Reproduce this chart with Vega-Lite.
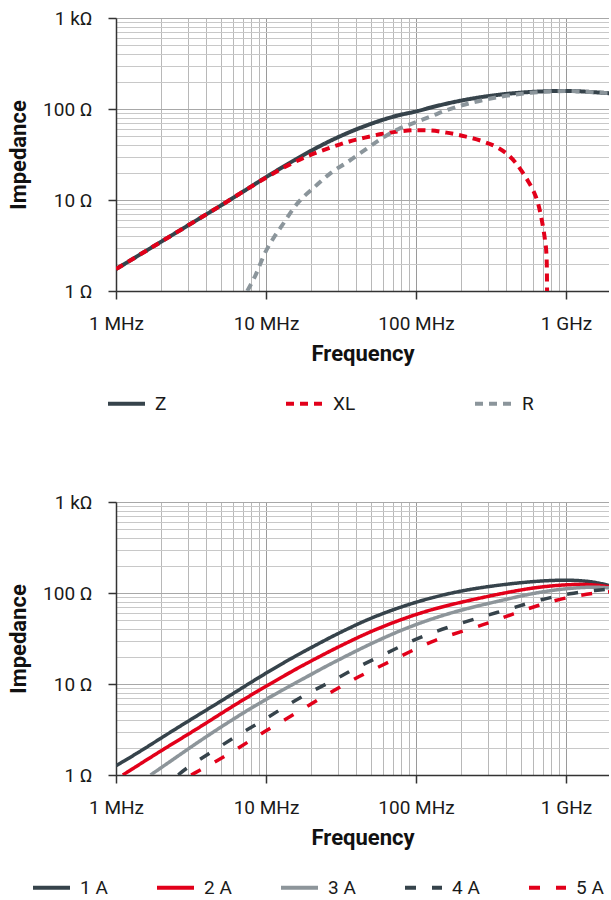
{
  "$schema": "https://vega.github.io/schema/vega-lite/v6.json",
  "padding": {"left": 7, "top": 9, "right": 0, "bottom": 0},
  "background": "white",
  "spacing": 211,
  "bounds": "flush",
  "resolve": {"scale": {"color": "independent", "strokeDash": "independent"}, "legend": {"color": "independent", "strokeDash": "independent"}},
  "config": {
    "view": {"stroke": null},
    "font": "Roboto",
    "axis": {
      "labelFont": "Roboto", "labelFontSize": 19, "labelColor": "#1a1a1a",
      "titleFont": "Roboto", "titleFontSize": 22, "titleFontWeight": "bold", "titleColor": "#111111",
      "domainColor": "#333333", "domainWidth": 1.5,
      "tickColor": "#333333", "tickWidth": 1.5, "tickSize": 8,
      "labelOverlap": false, "labelBound": false, "labelFlush": false,
      "grid": true
    },
    "legend": {
      "labelFont": "Roboto", "labelFontSize": 19, "labelColor": "#1a1a1a"
    }
  },
  "datasets": {
    "top": [
      {"s": "Z", "f": 1000000, "z": 1.74}, {"s": "Z", "f": 2000000, "z": 3.48}, {"s": "Z", "f": 3520000, "z": 6.12},
      {"s": "Z", "f": 5000000, "z": 8.7}, {"s": "Z", "f": 7000000, "z": 12.3}, {"s": "Z", "f": 10000000, "z": 17.8},
      {"s": "Z", "f": 16300000, "z": 28.8}, {"s": "Z", "f": 27100000, "z": 45}, {"s": "Z", "f": 45700000, "z": 65},
      {"s": "Z", "f": 75900000, "z": 85}, {"s": "Z", "f": 103000000, "z": 95}, {"s": "Z", "f": 126000000, "z": 104},
      {"s": "Z", "f": 212000000, "z": 126}, {"s": "Z", "f": 352000000, "z": 143}, {"s": "Z", "f": 585000000, "z": 154},
      {"s": "Z", "f": 1000000000, "z": 158}, {"s": "Z", "f": 1630000000, "z": 152}, {"s": "Z", "f": 1940000000, "z": 149},

      {"s": "XL", "f": 1000000, "z": 1.74}, {"s": "XL", "f": 2000000, "z": 3.48}, {"s": "XL", "f": 3520000, "z": 6.12},
      {"s": "XL", "f": 5000000, "z": 8.7}, {"s": "XL", "f": 7000000, "z": 12.3}, {"s": "XL", "f": 10000000, "z": 17.6},
      {"s": "XL", "f": 14000000, "z": 24}, {"s": "XL", "f": 20000000, "z": 31.5}, {"s": "XL", "f": 27100000, "z": 37.8},
      {"s": "XL", "f": 35200000, "z": 43.5}, {"s": "XL", "f": 45700000, "z": 48.5}, {"s": "XL", "f": 58500000, "z": 53},
      {"s": "XL", "f": 75900000, "z": 56.5}, {"s": "XL", "f": 103000000, "z": 58.5}, {"s": "XL", "f": 126000000, "z": 58},
      {"s": "XL", "f": 160000000, "z": 55}, {"s": "XL", "f": 212000000, "z": 50}, {"s": "XL", "f": 280000000, "z": 44},
      {"s": "XL", "f": 352000000, "z": 37.5}, {"s": "XL", "f": 410000000, "z": 31.5}, {"s": "XL", "f": 457000000, "z": 26.2},
      {"s": "XL", "f": 510000000, "z": 20.5}, {"s": "XL", "f": 558000000, "z": 16.2}, {"s": "XL", "f": 610000000, "z": 12.3},
      {"s": "XL", "f": 650000000, "z": 9.3}, {"s": "XL", "f": 680000000, "z": 6.8}, {"s": "XL", "f": 703000000, "z": 5.06},
      {"s": "XL", "f": 725000000, "z": 3.6}, {"s": "XL", "f": 740000000, "z": 2.62}, {"s": "XL", "f": 746000000, "z": 1.7},
      {"s": "XL", "f": 748000000, "z": 1.0},

      {"s": "R", "f": 7500000, "z": 1.0}, {"s": "R", "f": 8450000, "z": 1.45}, {"s": "R", "f": 9850000, "z": 2.62},
      {"s": "R", "f": 11200000, "z": 3.8}, {"s": "R", "f": 12600000, "z": 5.06}, {"s": "R", "f": 16300000, "z": 9.3},
      {"s": "R", "f": 21200000, "z": 14}, {"s": "R", "f": 27100000, "z": 19.9}, {"s": "R", "f": 35200000, "z": 26.3},
      {"s": "R", "f": 45700000, "z": 35.5}, {"s": "R", "f": 58500000, "z": 47}, {"s": "R", "f": 75900000, "z": 60},
      {"s": "R", "f": 103000000, "z": 73}, {"s": "R", "f": 126000000, "z": 83}, {"s": "R", "f": 160000000, "z": 97},
      {"s": "R", "f": 212000000, "z": 112}, {"s": "R", "f": 352000000, "z": 135}, {"s": "R", "f": 585000000, "z": 151},
      {"s": "R", "f": 1000000000, "z": 157.5}, {"s": "R", "f": 1630000000, "z": 152}, {"s": "R", "f": 1940000000, "z": 149}
    ],
    "bottom": [
      {"s": "1 A", "f": 1000000, "z": 1.26}, {"s": "1 A", "f": 1500000, "z": 1.88}, {"s": "1 A", "f": 2110000, "z": 2.7},
      {"s": "1 A", "f": 3520000, "z": 4.55}, {"s": "1 A", "f": 5870000, "z": 7.6}, {"s": "1 A", "f": 9800000, "z": 13},
      {"s": "1 A", "f": 16300000, "z": 21}, {"s": "1 A", "f": 22200000, "z": 27.5}, {"s": "1 A", "f": 27300000, "z": 33},
      {"s": "1 A", "f": 45500000, "z": 50}, {"s": "1 A", "f": 75900000, "z": 69}, {"s": "1 A", "f": 126000000, "z": 89},
      {"s": "1 A", "f": 211000000, "z": 108}, {"s": "1 A", "f": 352000000, "z": 122}, {"s": "1 A", "f": 587000000, "z": 134},
      {"s": "1 A", "f": 980000000, "z": 140}, {"s": "1 A", "f": 1470000000, "z": 135}, {"s": "1 A", "f": 1940000000, "z": 121},

      {"s": "2 A", "f": 1110000, "z": 1.0}, {"s": "2 A", "f": 2110000, "z": 1.96}, {"s": "2 A", "f": 3520000, "z": 3.25},
      {"s": "2 A", "f": 5870000, "z": 5.6}, {"s": "2 A", "f": 9800000, "z": 9.3}, {"s": "2 A", "f": 16300000, "z": 15},
      {"s": "2 A", "f": 22200000, "z": 19.6}, {"s": "2 A", "f": 27300000, "z": 23.4}, {"s": "2 A", "f": 45500000, "z": 35.5},
      {"s": "2 A", "f": 75900000, "z": 50}, {"s": "2 A", "f": 126000000, "z": 66}, {"s": "2 A", "f": 211000000, "z": 81},
      {"s": "2 A", "f": 352000000, "z": 97}, {"s": "2 A", "f": 587000000, "z": 114}, {"s": "2 A", "f": 980000000, "z": 124},
      {"s": "2 A", "f": 1470000000, "z": 125}, {"s": "2 A", "f": 1940000000, "z": 117},

      {"s": "3 A", "f": 1700000, "z": 1.0}, {"s": "3 A", "f": 2500000, "z": 1.55}, {"s": "3 A", "f": 3520000, "z": 2.3},
      {"s": "3 A", "f": 5870000, "z": 4.0}, {"s": "3 A", "f": 9800000, "z": 6.7}, {"s": "3 A", "f": 16300000, "z": 10.6},
      {"s": "3 A", "f": 22200000, "z": 14}, {"s": "3 A", "f": 27300000, "z": 16.8}, {"s": "3 A", "f": 45500000, "z": 25.8},
      {"s": "3 A", "f": 75900000, "z": 38}, {"s": "3 A", "f": 126000000, "z": 52}, {"s": "3 A", "f": 211000000, "z": 67},
      {"s": "3 A", "f": 352000000, "z": 81}, {"s": "3 A", "f": 587000000, "z": 99}, {"s": "3 A", "f": 980000000, "z": 112},
      {"s": "3 A", "f": 1470000000, "z": 117}, {"s": "3 A", "f": 1940000000, "z": 114},

      {"s": "4 A", "f": 2600000, "z": 1.0}, {"s": "4 A", "f": 2930000, "z": 1.19}, {"s": "4 A", "f": 4540000, "z": 1.88},
      {"s": "4 A", "f": 6500000, "z": 2.75}, {"s": "4 A", "f": 9300000, "z": 3.85}, {"s": "4 A", "f": 13300000, "z": 5.63},
      {"s": "4 A", "f": 19500000, "z": 8.1}, {"s": "4 A", "f": 28700000, "z": 11.1}, {"s": "4 A", "f": 41000000, "z": 15.5},
      {"s": "4 A", "f": 60300000, "z": 20.8}, {"s": "4 A", "f": 90700000, "z": 29.2}, {"s": "4 A", "f": 133000000, "z": 37.6},
      {"s": "4 A", "f": 200000000, "z": 46.7}, {"s": "4 A", "f": 302000000, "z": 57.3}, {"s": "4 A", "f": 443000000, "z": 68.5},
      {"s": "4 A", "f": 685000000, "z": 85.3}, {"s": "4 A", "f": 1060000000, "z": 99}, {"s": "4 A", "f": 1630000000, "z": 108},
      {"s": "4 A", "f": 1940000000, "z": 110},

      {"s": "5 A", "f": 3170000, "z": 1.0}, {"s": "5 A", "f": 4540000, "z": 1.38}, {"s": "5 A", "f": 6500000, "z": 1.95},
      {"s": "5 A", "f": 9300000, "z": 2.87}, {"s": "5 A", "f": 13300000, "z": 4.02}, {"s": "5 A", "f": 19500000, "z": 5.88},
      {"s": "5 A", "f": 28700000, "z": 8.6}, {"s": "5 A", "f": 41000000, "z": 12.0}, {"s": "5 A", "f": 60300000, "z": 16.2},
      {"s": "5 A", "f": 90700000, "z": 22.6}, {"s": "5 A", "f": 133000000, "z": 30.5}, {"s": "5 A", "f": 200000000, "z": 37.6},
      {"s": "5 A", "f": 302000000, "z": 46.4}, {"s": "5 A", "f": 443000000, "z": 59}, {"s": "5 A", "f": 650000000, "z": 73},
      {"s": "5 A", "f": 980000000, "z": 89}, {"s": "5 A", "f": 1560000000, "z": 100}, {"s": "5 A", "f": 1940000000, "z": 103}
    ]
  },
  "vconcat": [
    {
      "width": 493, "height": 273,
      "data": {"name": "top"},
      "mark": {"type": "line", "clip": true, "interpolate": "monotone", "strokeWidth": 4},
      "encoding": {
        "x": {
          "field": "f", "type": "quantitative",
          "scale": {"type": "log", "domain": [1000000, 1936000000], "nice": false},
          "axis": {
            "title": "Frequency", "titlePadding": 10, "labelPadding": 15,
            "values": [1000000,2000000,3000000,4000000,5000000,6000000,7000000,8000000,9000000,10000000,20000000,30000000,40000000,50000000,60000000,70000000,80000000,90000000,100000000,200000000,300000000,400000000,500000000,600000000,700000000,800000000,900000000,1000000000],
            "labelExpr": "datum.value==1000000?'1 MHz':datum.value==10000000?'10 MHz':datum.value==100000000?'100 MHz':datum.value==1000000000?'1 GHz':''",
            "tickOpacity": {"condition": {"test": "datum.value==1000000||datum.value==10000000||datum.value==100000000||datum.value==1000000000", "value": 1}, "value": 0},
            "gridColor": {"condition": {"test": "datum.value==1000000||datum.value==10000000||datum.value==100000000||datum.value==1000000000", "value": "#9a9a9a"}, "value": "#b8b8b8"},
            "gridWidth": 1
          }
        },
        "y": {
          "field": "z", "type": "quantitative",
          "scale": {"type": "log", "domain": [1, 1000], "nice": false},
          "axis": {
            "title": "Impedance", "titlePadding": 12, "labelPadding": 16,
            "values": [1,2,3,4,5,6,7,8,9,10,20,30,40,50,60,70,80,90,100,200,300,400,500,600,700,800,900,1000],
            "labelExpr": "datum.value==1?'1 Ω':datum.value==10?'10 Ω':datum.value==100?'100 Ω':datum.value==1000?'1 kΩ':''",
            "tickOpacity": {"condition": {"test": "datum.value==1||datum.value==10||datum.value==100||datum.value==1000", "value": 1}, "value": 0},
            "gridColor": {"condition": {"test": "datum.value==1||datum.value==10||datum.value==100||datum.value==1000", "value": "#a8a8a8"}, "value": "#c8c8c8"},
            "gridWidth": 1.2
          }
        },
        "color": {
          "field": "s", "type": "nominal",
          "scale": {"domain": ["Z", "XL", "R"], "range": ["#36434b", "#e2001a", "#8b959b"]},
          "legend": {"title": null, "orient": "none", "legendX": -10, "legendY": 365, "direction": "horizontal", "columns": 3, "columnPadding": 111, "labelOffset": 8, "symbolType": "stroke", "symbolSize": 1369, "symbolStrokeWidth": 4, "padding": 0}
        },
        "strokeDash": {
          "field": "s", "type": "nominal",
          "scale": {"domain": ["Z", "XL", "R"], "range": [[1, 0], [8, 6], [8, 6]]},
          "legend": {"title": null, "orient": "none", "legendX": -10, "legendY": 365, "direction": "horizontal", "columns": 3, "columnPadding": 111, "labelOffset": 8, "symbolType": "stroke", "symbolSize": 1369, "symbolStrokeWidth": 4, "padding": 0}
        }
      }
    },
    {
      "width": 493, "height": 273,
      "data": {"name": "bottom"},
      "mark": {"type": "line", "clip": true, "interpolate": "basis", "strokeWidth": 3.5},
      "encoding": {
        "x": {
          "field": "f", "type": "quantitative",
          "scale": {"type": "log", "domain": [1000000, 1936000000], "nice": false},
          "axis": {
            "title": "Frequency", "titlePadding": 10, "labelPadding": 15,
            "values": [1000000,2000000,3000000,4000000,5000000,6000000,7000000,8000000,9000000,10000000,20000000,30000000,40000000,50000000,60000000,70000000,80000000,90000000,100000000,200000000,300000000,400000000,500000000,600000000,700000000,800000000,900000000,1000000000],
            "labelExpr": "datum.value==1000000?'1 MHz':datum.value==10000000?'10 MHz':datum.value==100000000?'100 MHz':datum.value==1000000000?'1 GHz':''",
            "tickOpacity": {"condition": {"test": "datum.value==1000000||datum.value==10000000||datum.value==100000000||datum.value==1000000000", "value": 1}, "value": 0},
            "gridColor": {"condition": {"test": "datum.value==1000000||datum.value==10000000||datum.value==100000000||datum.value==1000000000", "value": "#9a9a9a"}, "value": "#b8b8b8"},
            "gridWidth": 1
          }
        },
        "y": {
          "field": "z", "type": "quantitative",
          "scale": {"type": "log", "domain": [1, 1000], "nice": false},
          "axis": {
            "title": "Impedance", "titlePadding": 12, "labelPadding": 16,
            "values": [1,2,3,4,5,6,7,8,9,10,20,30,40,50,60,70,80,90,100,200,300,400,500,600,700,800,900,1000],
            "labelExpr": "datum.value==1?'1 Ω':datum.value==10?'10 Ω':datum.value==100?'100 Ω':datum.value==1000?'1 kΩ':''",
            "tickOpacity": {"condition": {"test": "datum.value==1||datum.value==10||datum.value==100||datum.value==1000", "value": 1}, "value": 0},
            "gridColor": {"condition": {"test": "datum.value==1||datum.value==10||datum.value==100||datum.value==1000", "value": "#a8a8a8"}, "value": "#c8c8c8"},
            "gridWidth": 1.2
          }
        },
        "color": {
          "field": "s", "type": "nominal",
          "scale": {"domain": ["1 A", "2 A", "3 A", "4 A", "5 A"], "range": ["#36434b", "#e2001a", "#8d959a", "#36434b", "#e2001a"]},
          "legend": {"title": null, "orient": "none", "legendX": -85, "legendY": 365, "direction": "horizontal", "columns": 5, "columnPadding": 41, "labelOffset": 8, "symbolType": "stroke", "symbolSize": 1369, "symbolStrokeWidth": 4, "padding": 0}
        },
        "strokeDash": {
          "field": "s", "type": "nominal",
          "scale": {"domain": ["1 A", "2 A", "3 A", "4 A", "5 A"], "range": [[1, 0], [1, 0], [1, 0], [11, 16], [11, 16]]},
          "legend": {"title": null, "orient": "none", "legendX": -85, "legendY": 365, "direction": "horizontal", "columns": 5, "columnPadding": 41, "labelOffset": 8, "symbolType": "stroke", "symbolSize": 1369, "symbolStrokeWidth": 4, "padding": 0}
        }
      }
    }
  ]
}
